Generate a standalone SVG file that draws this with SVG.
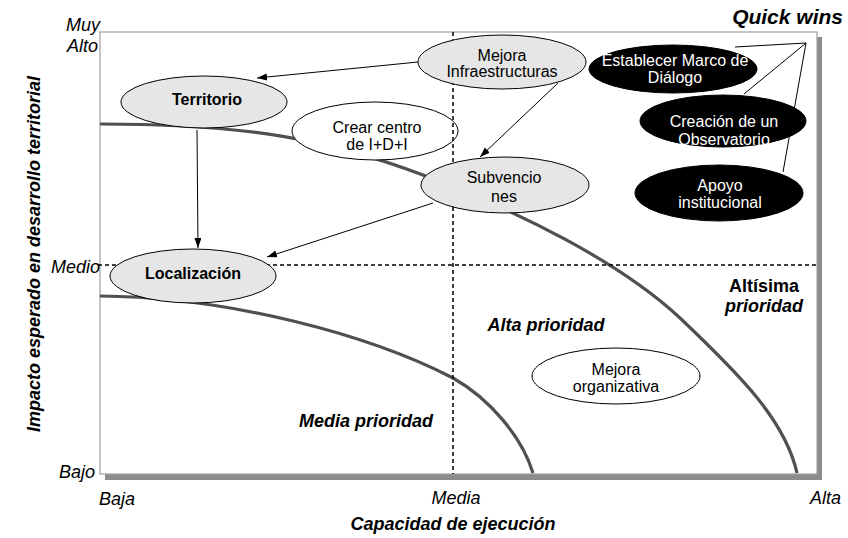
<svg xmlns="http://www.w3.org/2000/svg" width="848" height="538" viewBox="0 0 848 538">
<style>
text{font-family:"Liberation Sans",Arial,sans-serif;fill:#000}
.ax{font-size:18px;font-style:italic}
.ttl{font-size:18px;font-weight:bold;font-style:italic}
.nt{font-size:16px;text-anchor:middle}
.ntb{font-size:16px;font-weight:bold;text-anchor:middle}
.wt{fill:#fff}
.gray{fill:#e6e6e6;stroke:#000;stroke-width:1}
.white{fill:#fff;stroke:#000;stroke-width:1}
.black{fill:#000;stroke:#000;stroke-width:1}
.curve{fill:none;stroke:#505050;stroke-width:3.2}
.dash{stroke:#000;stroke-width:1.5;stroke-dasharray:4 3;fill:none}
.conn{stroke:#000;stroke-width:1;fill:none}
.arr{marker-end:url(#ah)}
</style>
<defs>
<marker id="ah" markerUnits="userSpaceOnUse" markerWidth="11" markerHeight="8" refX="10" refY="3.5" orient="auto">
<path d="M0,0 L10,3.5 L0,7 z" fill="#000"/>
</marker>
</defs>
<rect width="848" height="538" fill="#fff"/>
<g id="frame">
<rect x="817" y="37" width="5" height="443" fill="#8c8c8c"/>
<rect x="105" y="474" width="717" height="6" fill="#8c8c8c"/>
<rect x="100" y="32" width="717" height="442" fill="#fff" stroke="#a0a0a0" stroke-width="1.2"/>
</g>
<g id="curves">
<path class="curve" d="M100,124 C250,124 330,140 423,175 C520,212 620,262 680,318 C740,375 785,420 797,473"/>
<path class="curve" d="M100,296 C230,297 370,335 453,378 C490,399 522,437 533,473"/>
</g>
<g id="n-crear">
<ellipse class="white" cx="375" cy="131" rx="83" ry="29"/>
<text class="nt" x="377" y="133">Crear centro</text>
<text class="nt" x="377" y="150">de I+D+I</text>
</g>
<g id="quadrants">
<line class="dash" x1="98" y1="265" x2="817" y2="265"/>
<line class="dash" x1="453" y1="32" x2="453" y2="474"/>
</g>
<g id="labels">
<text class="ax" x="100" y="31" text-anchor="end">Muy</text>
<text class="ax" x="98" y="52" text-anchor="end">Alto</text>
<text class="ax" x="100" y="273" text-anchor="end">Medio</text>
<text class="ax" x="95" y="478" text-anchor="end">Bajo</text>
<text class="ax" x="99" y="505">Baja</text>
<text class="ax" x="456" y="504" text-anchor="middle">Media</text>
<text class="ax" x="841" y="504" text-anchor="end">Alta</text>
<text class="ttl" x="453" y="530" text-anchor="middle">Capacidad de ejecución</text>
<text class="ttl" transform="translate(40,254) rotate(-90)" text-anchor="middle">Impacto esperado en desarrollo territorial</text>
<text class="ttl" x="843" y="24" text-anchor="end" style="font-size:21px">Quick wins</text>
<text class="ttl" x="366" y="427" text-anchor="middle">Media prioridad</text>
<text class="ttl" x="546" y="331" text-anchor="middle">Alta prioridad</text>
<text x="764" y="292" text-anchor="middle" style="font-size:18px;font-weight:bold">Altísima</text>
<text class="ttl" x="764" y="312" text-anchor="middle">prioridad</text>
</g>
<g id="n-infra">
<ellipse class="gray" cx="502" cy="62" rx="84" ry="27"/>
<text class="nt" x="502" y="61">Mejora</text>
<text class="nt" x="502" y="77">Infraestructuras</text>
</g>
<g id="n-territorio">
<ellipse class="gray" cx="204" cy="102" rx="83" ry="26"/>
<text class="ntb" x="207" y="105">Territorio</text>
</g>
<g id="n-subvenciones">
<ellipse class="gray" cx="505" cy="185" rx="84" ry="28"/>
<text class="nt" x="504" y="183">Subvencio</text>
<text class="nt" x="504" y="202">nes</text>
</g>
<g id="n-localizacion">
<ellipse class="gray" cx="193" cy="276" rx="83" ry="27"/>
<text class="ntb" x="193" y="279">Localización</text>
</g>
<g id="n-marco">
<ellipse class="black" cx="673" cy="69" rx="84" ry="24"/>
<text class="nt wt" x="675" y="66">Establecer Marco de</text>
<text class="nt wt" x="675" y="83">Diálogo</text>
</g>
<g id="n-observatorio">
<ellipse class="black" cx="723" cy="121" rx="83" ry="26"/>
<text class="nt wt" x="724" y="127">Creación de un</text>
<text class="nt wt" x="724" y="145">Observatorio</text>
</g>
<g id="n-apoyo">
<ellipse class="black" cx="719" cy="193" rx="84" ry="28"/>
<text class="nt wt" x="720" y="191">Apoyo</text>
<text class="nt wt" x="720" y="208">institucional</text>
</g>
<g id="n-organizativa">
<ellipse class="white" cx="616" cy="376" rx="84" ry="28"/>
<text class="nt" x="616" y="375">Mejora</text>
<text class="nt" x="616" y="392">organizativa</text>
</g>
<g id="connectors">
<line class="conn arr" x1="418" y1="62" x2="257" y2="78"/>
<line class="conn arr" x1="558" y1="83" x2="480" y2="157"/>
<line class="conn arr" x1="197" y1="130" x2="198" y2="248"/>
<line class="conn arr" x1="433" y1="203" x2="267" y2="257"/>
<line class="conn" x1="806" y1="43" x2="735" y2="47"/>
<line class="conn" x1="806" y1="43" x2="744" y2="94"/>
<line class="conn" x1="806" y1="43" x2="783" y2="172"/>
</g>
</svg>
